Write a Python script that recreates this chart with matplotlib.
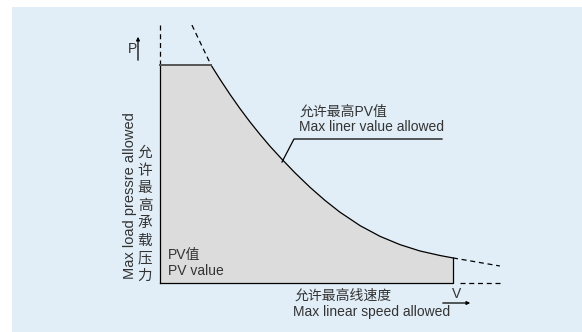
import numpy as np
import matplotlib.pyplot as plt
from matplotlib.patches import Rectangle

# PV diagram (V, P in arbitrary units, 0..10)
curve_v = [1.74, 2.05, 2.39, 2.73, 3.07, 3.41, 3.75, 4.16, 4.61, 5.12, 5.63, 6.14,
           6.83, 7.51, 8.19, 8.87, 9.56, 10.0]
curve_p = [10.0, 9.34, 8.65, 8.00, 7.39, 6.82, 6.28, 5.68, 5.05, 4.39, 3.79, 3.25,
           2.63, 2.14, 1.76, 1.47, 1.26, 1.15]
p_max = 10.0
v_max = 10.0
top_dash_v = [1.09, 1.74]
top_dash_p = [11.83, 10.0]
right_dash_v = [10.0, 11.6]
right_dash_p = [1.15, 0.78]

cn_font = ['Liberation Sans', 'Noto Sans CJK SC']
txt_col = '#333333'
fs = 10

# pixel mapping: V=0 at px 160, P=0 at py 283
sx, sy = 29.3, 21.8
W, H = 582, 332
x0, y0 = 160, 283

fig = plt.figure(figsize=(W / 100, H / 100), dpi=100)
fig.patch.set_facecolor('white')
ax = fig.add_axes([0, 0, 1, 1])
ax.set_xlim(-x0 / sx, (W - x0) / sx)
ax.set_ylim((y0 - H) / sy, y0 / sy)
ax.axis('off')

# light blue panel
ax.add_patch(Rectangle((12 / W, 0), 1 - 12 / W, (H - 7) / H, transform=ax.transAxes,
                       facecolor='#e1eef7', edgecolor='none', zorder=0))

# shaded allowed region
poly_v = [0, 0] + curve_v + [v_max]
poly_p = [0, p_max] + curve_p + [0]
ax.fill(poly_v, poly_p, facecolor='#dcdcdc', edgecolor='none', zorder=1)
ax.plot([0, 0], [0, p_max], color='black', lw=0.9, zorder=2)
ax.plot(curve_v, curve_p, color='black', lw=0.9, zorder=2)
ax.plot([v_max, v_max, 0], [curve_p[-1], 0, 0], color='black', lw=0.9, zorder=2)
ax.plot([0, curve_v[0]], [p_max, p_max], color='#555555', lw=1.4, zorder=3)

# dashed extensions
ax.plot([0, 0], [p_max, 11.93], color='black', lw=0.9, ls=(0, (4, 3)), zorder=2)
ax.plot(top_dash_v, top_dash_p, color='black', lw=0.9, ls=(0, (4, 3)), zorder=2)
ax.plot(right_dash_v, right_dash_p, color='black', lw=0.9, ls=(0, (4, 3)), zorder=2)
ax.plot([10.25, 11.6], [0, 0], color='black', lw=0.9, ls=(0, (4, 3)), zorder=2)

def px(x, y):
    return (x - x0) / sx, (y0 - y) / sy

# axis arrows
ax.annotate('', xy=px(138, 34), xytext=px(138, 63),
            arrowprops=dict(arrowstyle='-|>', color='black', lw=0.9, mutation_scale=5))
ax.text(*px(133, 49), 'P', ha='center', va='center', fontsize=fs, family=cn_font, color=txt_col)
ax.annotate('', xy=px(473, 303), xytext=px(440, 303),
            arrowprops=dict(arrowstyle='-|>', color='black', lw=0.9, mutation_scale=5))
ax.text(*px(457, 294), 'V', ha='center', va='center', fontsize=fs, family=cn_font, color=txt_col)

# leader to curve
lx, ly = zip(px(282, 162), px(294, 139), px(442, 139))
ax.plot(lx, ly, color='black', lw=0.9, zorder=2)
ax.text(*px(300, 112), '允许最高PV值', ha='left', va='center', fontsize=fs,
        family=cn_font, color=txt_col)
ax.text(*px(299, 127), 'Max liner value allowed', ha='left', va='center', fontsize=fs,
        family=cn_font, color=txt_col)

# PV value label
ax.text(*px(168, 255), 'PV值', ha='left', va='center', fontsize=fs, family=cn_font, color=txt_col)
ax.text(*px(168, 271), 'PV value', ha='left', va='center', fontsize=fs, family=cn_font, color=txt_col)

# bottom label
ax.text(*px(295, 296), '允许最高线速度', ha='left', va='center', fontsize=fs,
        family=cn_font, color=txt_col)
ax.text(*px(293, 312), 'Max linear speed allowed', ha='left', va='center', fontsize=fs,
        family=cn_font, color=txt_col)

# left label
ax.text(*px(130, 196), 'Max load pressre allowed', rotation=90, ha='center', va='center',
        fontsize=10.5, family=cn_font, color=txt_col)
cn_chars = '允许最高承载压力'
for i, ch in enumerate(cn_chars):
    ax.text(*px(145, 153 + i * 17.6), ch, ha='center', va='center', fontsize=10.5,
            family=cn_font, color=txt_col)

fig.savefig('out.png', dpi=100)
